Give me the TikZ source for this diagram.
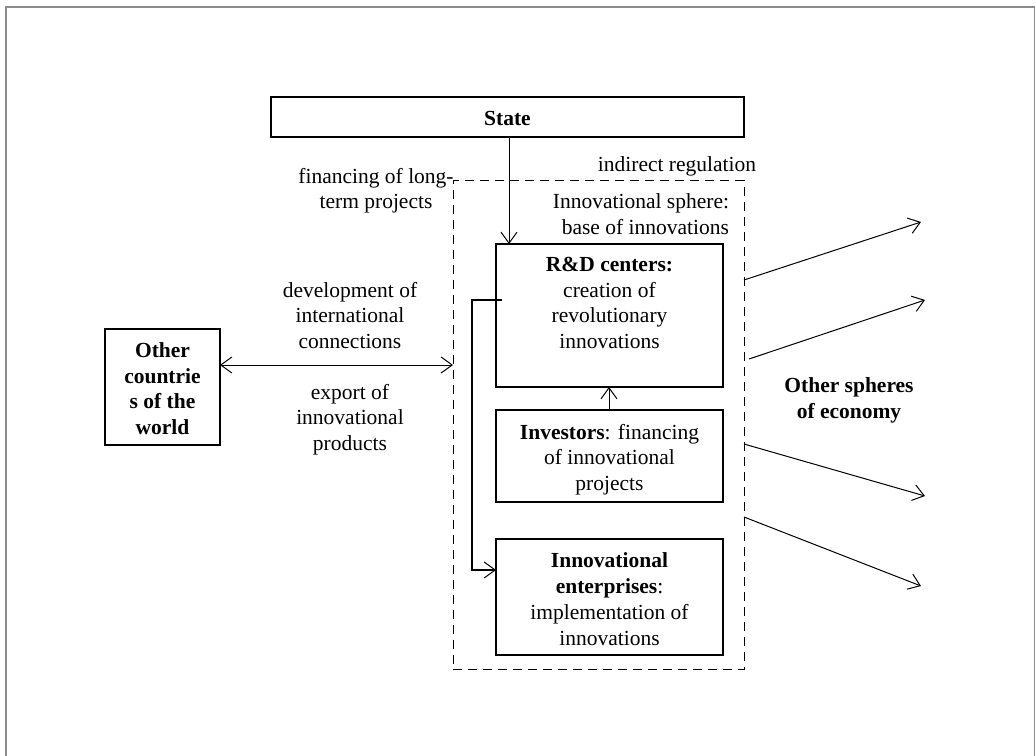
\documentclass[tikz,border=0pt]{standalone}
\usepackage{fontspec}
\setmainfont{Liberation Serif}
\usetikzlibrary{arrows.meta}
\begin{document}
\begin{tikzpicture}[x=1pt,y=-1pt,
  every node/.style={inner sep=0pt,outer sep=0pt,font=\fontsize{21.5}{25.7}\selectfont},
  box/.style={draw,line width=1.2pt},
  txt/.style={align=center},
  arr/.style={line width=1pt,-{Straight Barb[length=11pt,width=16pt,line width=1pt]}},
  darr/.style={line width=1pt,{Straight Barb[length=11pt,width=16pt,line width=1pt]}-{Straight Barb[length=11pt,width=16pt,line width=1pt]}},
  dash box/.style={draw,line width=1pt,dash pattern=on 9pt off 6pt}]
\useasboundingbox (0,0) rectangle (1036,755);
\fill[white] (0,0) rectangle (1036,755);
\draw[line width=1.6pt,color=gray!90] (6,760) -- (6,7) -- (1034.5,7) -- (1034.5,760);

% boxes
\node[box,minimum width=473pt,minimum height=40pt,anchor=north west] (state) at (271,97) {};
\node[font=\fontsize{21.5}{25.7}\selectfont\bfseries] (statet) at (507.5,118) {State};

\node[dash box,minimum width=291pt,minimum height=489pt,anchor=north west] (sphere) at (453,180.5) {};

\node[box,minimum width=227pt,minimum height=143pt,anchor=north west] (rd) at (496,244) {};
\node[txt,anchor=north] (rdt) at (609.5,257) {\textbf{R\&D centers:}\\creation of\\revolutionary\\innovations};

\node[box,minimum width=227pt,minimum height=92pt,anchor=north west] (inv) at (496,410) {};
\node[txt,anchor=north] (invt) at (609.5,424) {\textbf{Investors}: financing\\of innovational\\projects};

\node[box,minimum width=227pt,minimum height=116pt,anchor=north west] (ent) at (496,539) {};
\node[txt,anchor=north] (entt) at (609.5,553) {\textbf{Innovational}\\\textbf{enterprises}:\\implementation of\\innovations};

\node[box,minimum width=115pt,minimum height=116pt,anchor=north west] (oc) at (105,329) {};
\node[txt,anchor=north,font=\fontsize{21.5}{25.4}\selectfont\bfseries] (oct) at (162.5,343) {Other\\countrie\\s of the\\world};

% labels
\node[txt,anchor=north] (fin) at (376,168) {financing of long-\\term projects};
\node[anchor=north] (indir) at (677,157) {indirect regulation};
\node[align=right,anchor=north east] (base) at (729,194) {Innovational sphere:\\base of innovations};
\node[txt,anchor=north] (dev) at (350,282) {development of\\international\\connections};
\node[txt,anchor=north] (exp) at (350,384) {export of\\innovational\\products};
\node[txt,anchor=north,font=\fontsize{21.5}{25.4}\selectfont\bfseries] (oth) at (849,378) {Other spheres\\of economy};

% coordinates for arrow ends
\coordinate (a1s) at (744,280); \coordinate (a1e) at (921,222);
\coordinate (a2s) at (749,359); \coordinate (a2e) at (925,300);
\coordinate (a3s) at (744,444); \coordinate (a3e) at (925,496);
\coordinate (a4s) at (744,517); \coordinate (a4e) at (921,586);
\coordinate (el) at (502,300);

% connectors
\draw[arr] (state.south -| 509,0) -- (rd.north -| 509,0);
\draw[arr] (inv.north -| 609,0) -- (rd.south -| 609,0);
\draw[darr] (oc.east |- 0,365) -- (sphere.west |- 0,365);
\draw[line width=1.8pt,-{Straight Barb[length=11pt,width=16pt,line width=1pt]}] (el) -- (472,300) -- (472,570) -- (ent.west |- 0,570);
\draw[arr] (a1s) -- (a1e);
\draw[arr] (a2s) -- (a2e);
\draw[arr] (a3s) -- (a3e);
\draw[arr] (a4s) -- (a4e);
\end{tikzpicture}
\end{document}
